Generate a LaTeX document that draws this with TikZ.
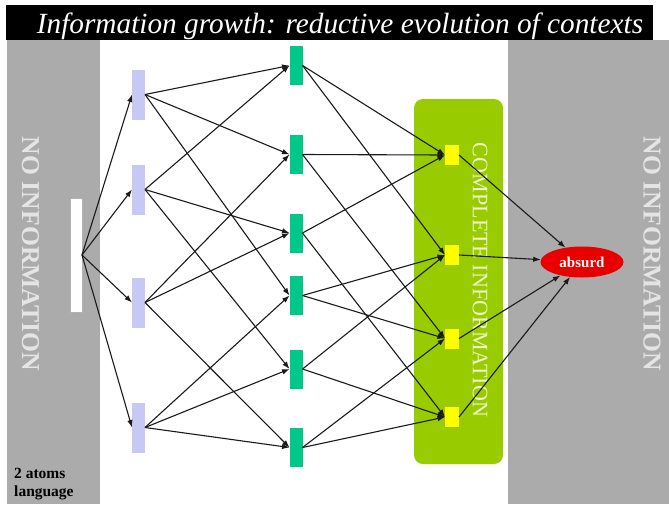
\documentclass[tikz,border=0pt]{standalone}
\usepackage{fontspec}
\setmainfont{Liberation Serif}
\usetikzlibrary{arrows.meta,shapes.geometric}

\definecolor{bandgray}{HTML}{ABABAB}
\definecolor{bandtext}{HTML}{E4E4E4}
\definecolor{atomblue}{HTML}{C8C8F4}
\definecolor{ctxgreen}{HTML}{00C88A}
\definecolor{fullyellow}{HTML}{FFFF00}
\definecolor{olive}{HTML}{99CC00}
\definecolor{olivetext}{HTML}{F0F4CC}
\definecolor{absurdred}{HTML}{E80000}
\definecolor{wire}{HTML}{1A1A1A}

\tikzset{
  block/.style={rectangle, draw=none, inner sep=0pt, outer sep=0pt},
  atom/.style={block, fill=atomblue, minimum width=13pt, minimum height=50pt},
  ctx/.style={block, fill=ctxgreen, minimum width=13pt, minimum height=39pt},
  full/.style={block, fill=fullyellow, minimum width=14pt, minimum height=20pt},
  link/.style={draw=wire, line width=1.1pt, -{Latex[length=7.5pt,width=5.5pt]}},
}

\begin{document}
\begin{tikzpicture}[x=1pt,y=-1pt]
  \useasboundingbox (0,0) rectangle (669,504);
  \fill[white] (0,0) rectangle (669,504);

  % title bar
  \fill[black] (6,5) rectangle (653,40);
  \node[anchor=base, text=white, inner sep=0pt] (title) at (340,33.5)
    {\resizebox{606pt}{!}{\itshape Information growth: reductive evolution of contexts}};

  % grey side bands
  \fill[bandgray] (7,40) rectangle (100,504);
  \fill[bandgray] (508,40) rectangle (669,504);
  \node[rotate=-90, text=bandtext, inner sep=0pt] (noinfoL) at (30.5,254)
    {\resizebox{234pt}{!}{\bfseries NO INFORMATION}};
  \node[rotate=-90, text=bandtext, inner sep=0pt] (noinfoR) at (652,254)
    {\resizebox{234pt}{!}{\bfseries NO INFORMATION}};

  % complete-information panel
  \fill[olive, rounded corners=9pt] (414,99) rectangle (503,464);
  \node[rotate=-90, text=olivetext, inner sep=0pt] (complete) at (480,280)
    {\resizebox{274pt}{!}{COMPLETE INFORMATION}};

  % language label
  \node[anchor=north west, align=left, inner sep=0pt,
        font=\bfseries\fontsize{15.5pt}{18pt}\selectfont] (lang) at (14,468)
    {2 atoms\\language};

  % starting context
  \node[block, fill=white, draw=black!30, line width=0.6pt,
        minimum width=12pt, minimum height=114pt] (S) at (76,255) {};

  % atoms
  \node[atom] (L1) at (138.5,94.5) {};
  \node[atom] (L2) at (138.5,189.5) {};
  \node[atom] (L3) at (138.5,302.5) {};
  \node[atom] (L4) at (138.5,427.5) {};

  % intermediate contexts
  \node[ctx] (G1) at (296,65.5) {};
  \node[ctx] (G2) at (296,154.5) {};
  \node[ctx] (G3) at (296,233) {};
  \node[ctx] (G4) at (296,295.5) {};
  \node[ctx] (G5) at (296,369) {};
  \node[ctx] (G6) at (296,447.5) {};

  % complete contexts
  \node[full] (Y1) at (452,155) {};
  \node[full] (Y2) at (452,255) {};
  \node[full] (Y3) at (452,338.5) {};
  \node[full] (Y4) at (452,417) {};

  % absurd context
  \node[ellipse, fill=absurdred, inner sep=0pt, minimum width=83pt, minimum height=31pt,
        text=white, font=\bfseries\fontsize{15pt}{17pt}\selectfont] (A) at (582,262) {absurd};

  % reductions
  \foreach \t in {L1,L2,L3,L4}
    \draw[link] (S.east) -- (\t.west);

  \foreach \s/\t in {L1/G1, L1/G2, L1/G4,
                     L2/G1, L2/G3, L2/G5,
                     L3/G2, L3/G3, L3/G6,
                     L4/G4, L4/G5, L4/G6}
    \draw[link] (\s.east) -- (\t.west);

  \foreach \s/\t in {G1/Y1, G1/Y2, G2/Y1, G2/Y3, G3/Y1, G3/Y4,
                     G4/Y2, G4/Y3, G5/Y2, G5/Y4, G6/Y3, G6/Y4}
    \draw[link] (\s.east) -- (\t.west);

  \foreach \s in {Y1,Y2,Y3,Y4}
    \draw[link] (\s.east) -- (A);
\end{tikzpicture}
\end{document}
